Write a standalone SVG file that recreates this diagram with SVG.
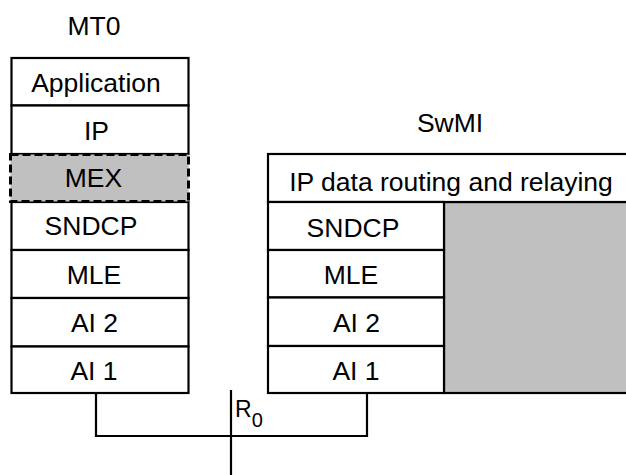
<svg xmlns="http://www.w3.org/2000/svg" width="626" height="475" viewBox="0 0 626 475">
<style>
text{font-family:"Liberation Sans",Arial,sans-serif;font-size:26.5px;fill:#000;text-anchor:middle}
.b{fill:#fff;stroke:#000;stroke-width:2.2}
.g{fill:#c0c0c0;stroke:#000;stroke-width:2.2}
.d{fill:#c0c0c0;stroke:#000;stroke-width:3;stroke-dasharray:8 4}
.c{fill:none;stroke:#000;stroke-width:2.2}
</style>
<rect width="626" height="475" fill="#fff"/>
<g id="mt0">
<text x="94" y="35">MT0</text>
<g id="mt0-application"><rect class="b" x="11.5" y="58" width="177" height="47.5"/><text x="96" y="92">Application</text></g>
<g id="mt0-ip"><rect class="b" x="11.5" y="105.5" width="177" height="48.5"/><text x="96.5" y="140">IP</text></g>
<g id="mt0-sndcp"><rect class="b" x="11.5" y="202" width="177" height="48"/><text x="91" y="235">SNDCP</text></g>
<g id="mt0-mle"><rect class="b" x="11.5" y="250" width="177" height="48"/><text x="94" y="284">MLE</text></g>
<g id="mt0-ai2"><rect class="b" x="11.5" y="298" width="177" height="48.5"/><text x="94.5" y="332">AI 2</text></g>
<g id="mt0-ai1"><rect class="b" x="11.5" y="346.5" width="177" height="46.5"/><text x="94" y="380">AI 1</text></g>
<g id="mt0-mex"><rect class="d" x="10.5" y="154.5" width="178" height="47"/><text x="93.5" y="187">MEX</text></g>
</g>
<g id="swmi">
<text x="450" y="132">SwMI</text>
<g id="swmi-gray"><rect class="g" x="444" y="202" width="186" height="191"/></g>
<g id="swmi-ip"><rect class="b" x="268" y="154" width="362" height="48"/><text x="451" y="191">IP data routing and relaying</text></g>
<g id="swmi-sndcp"><rect class="b" x="268" y="202" width="176" height="48"/><text x="353" y="237">SNDCP</text></g>
<g id="swmi-mle"><rect class="b" x="268" y="250" width="176" height="47.5"/><text x="351" y="284">MLE</text></g>
<g id="swmi-ai2"><rect class="b" x="268" y="297.5" width="176" height="48.5"/><text x="356.5" y="332">AI 2</text></g>
<g id="swmi-ai1"><rect class="b" x="268" y="346" width="176" height="47"/><text x="356" y="380">AI 1</text></g>
</g>
<g id="connectors">
<polyline class="c" points="96,393 96,436 367,436 367,393"/>
<line class="c" x1="231" y1="390" x2="231" y2="475"/>
<text x="235" y="417" style="text-anchor:start;font-size:23px">R<tspan font-size="20px" dy="10">0</tspan></text>
</g>
</svg>
